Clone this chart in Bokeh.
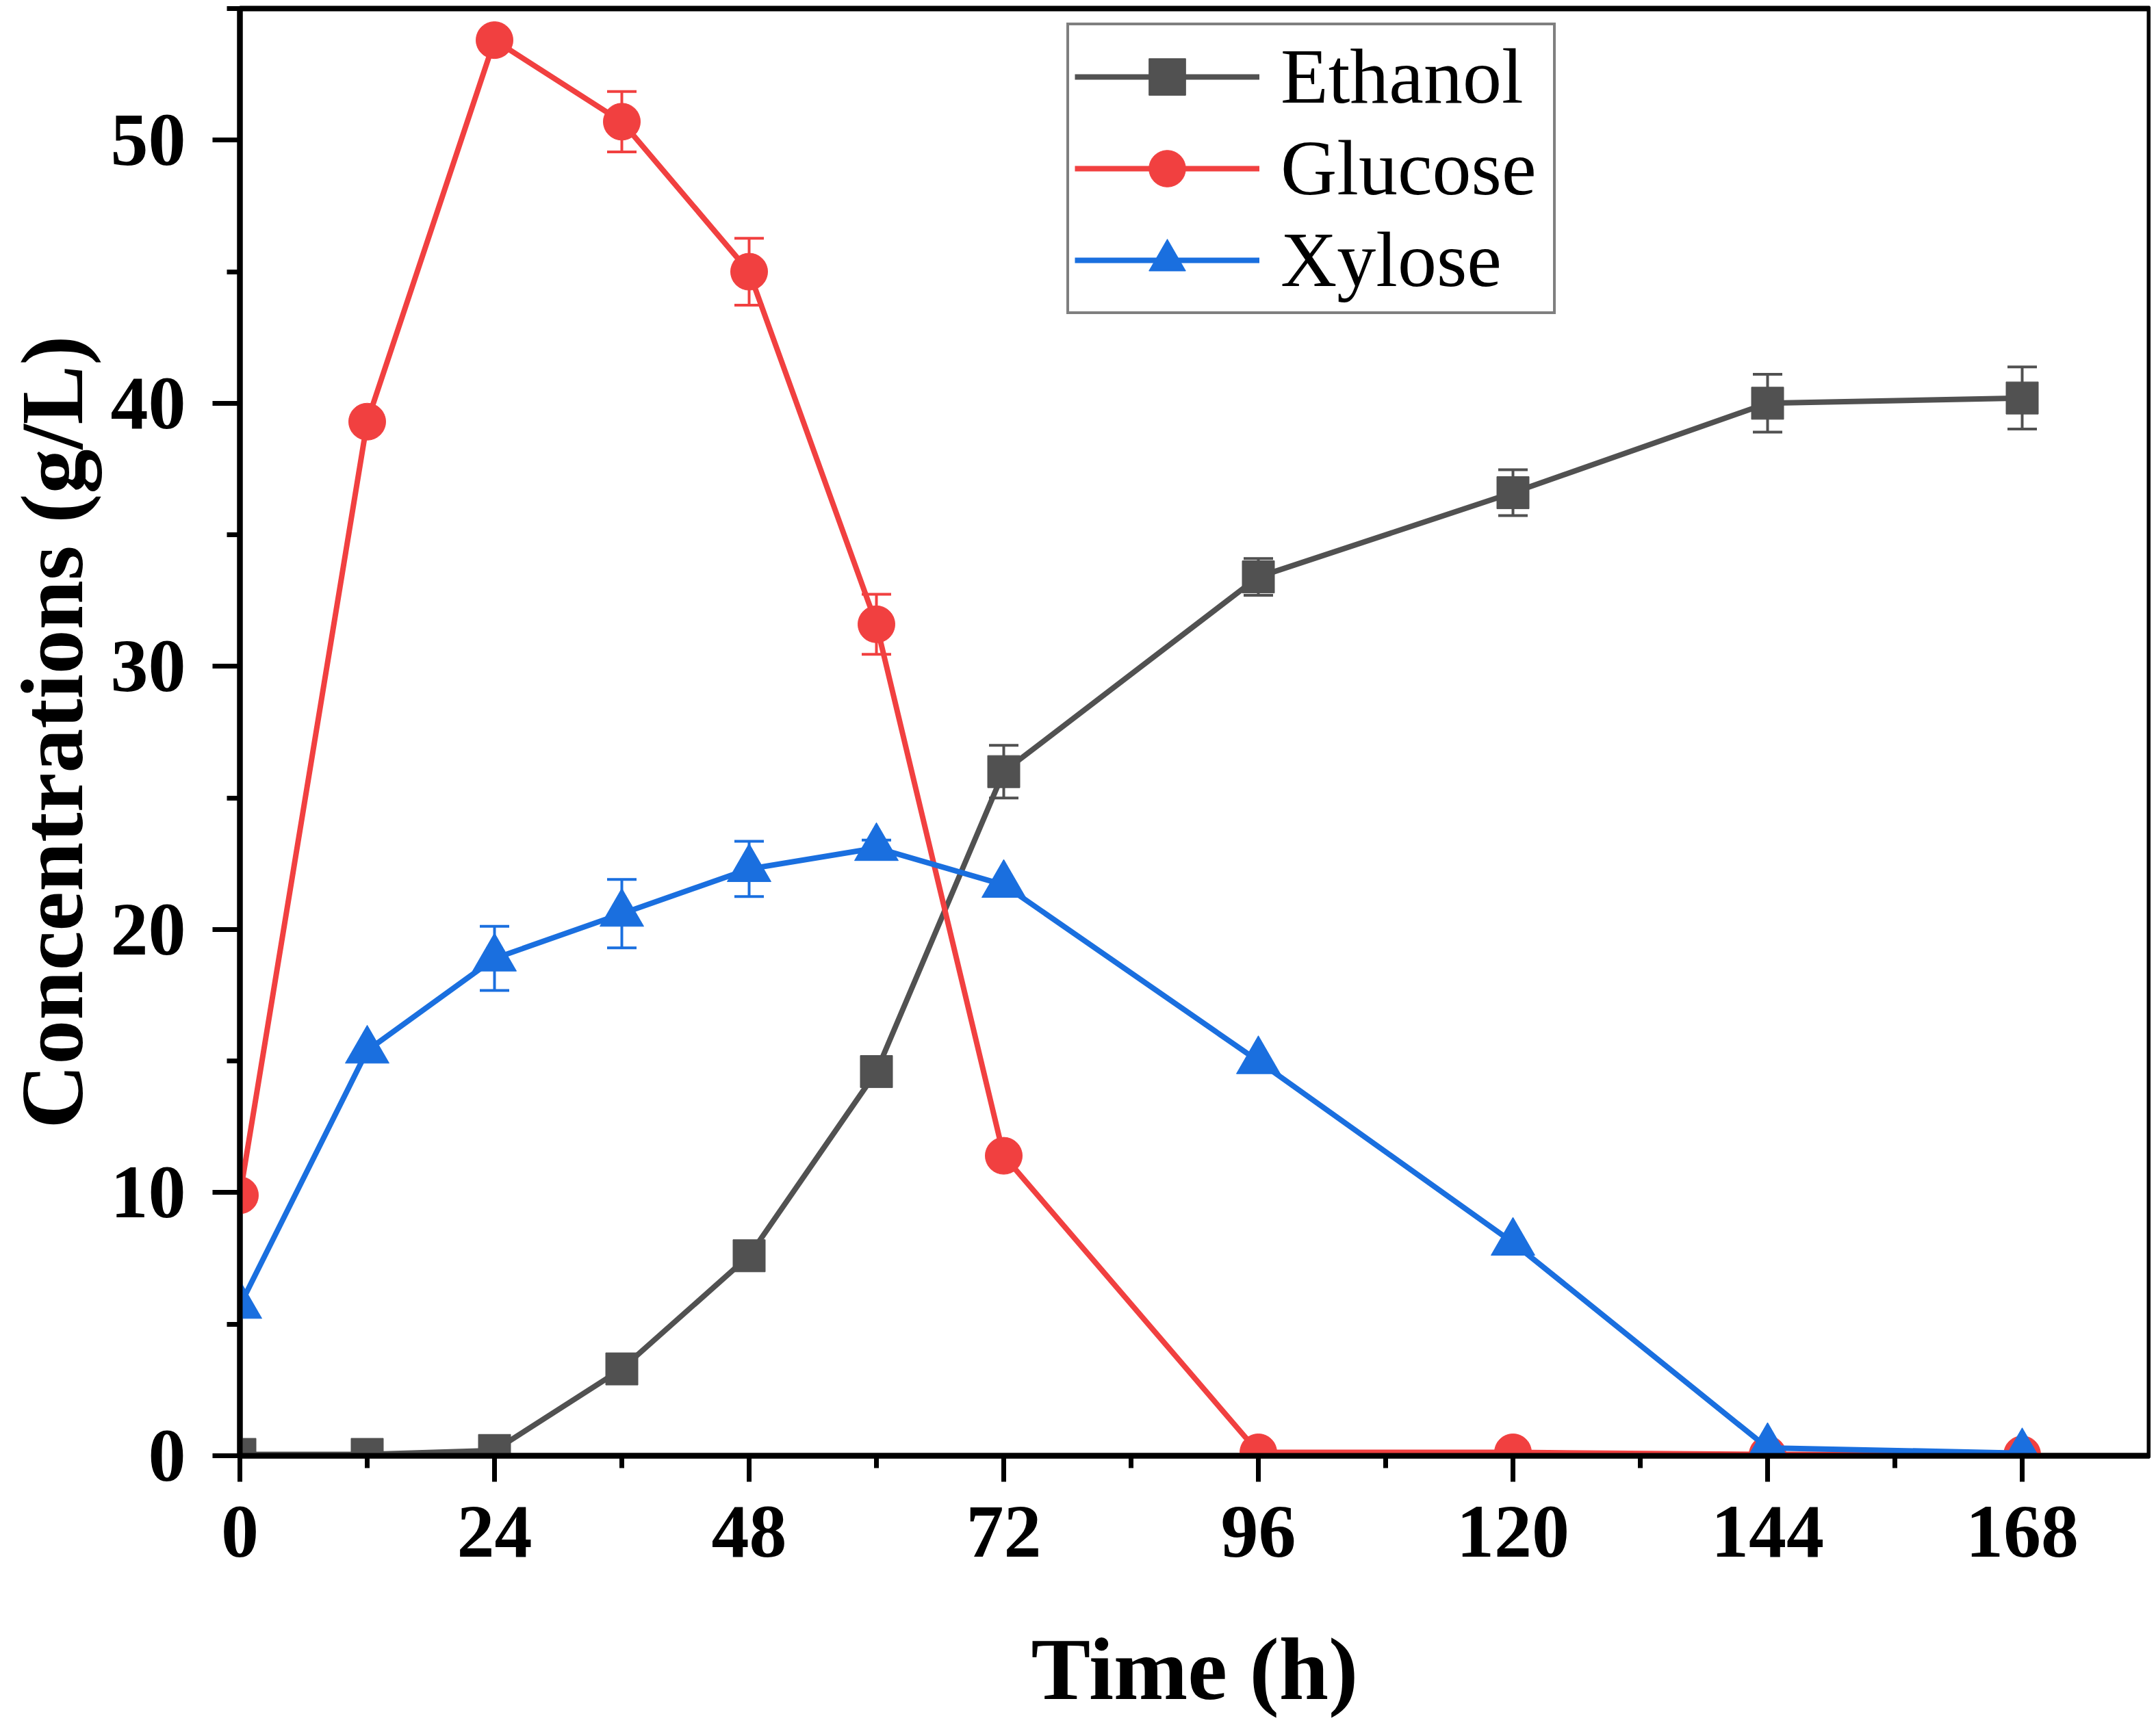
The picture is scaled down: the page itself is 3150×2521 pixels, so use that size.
from bokeh.plotting import figure
from bokeh.models import (ColumnDataSource, Range1d, FixedTicker, Whisker, TeeHead,
                          Legend, LegendItem)
from bokeh.embed import file_html
from bokeh.resources import INLINE

# ---- data ----
time_h = [0, 12, 24, 36, 48, 60, 72, 96, 120, 144, 168]
ethanol = [0.05, 0.05, 0.2, 3.3, 7.6, 14.6, 26.0, 33.4, 36.6, 40.0, 40.2]
glucose = [9.9, 39.3, 53.8, 50.7, 45.0, 31.6, 11.4, 0.13, 0.13, 0.05, 0.05]
xylose = [5.7, 15.4, 18.9, 20.6, 22.3, 23.1, 21.7, 15.0, 8.1, 0.3, 0.1]

ethanol_err = [0, 0, 0, 0.4, 0.35, 0.35, 1.0, 0.7, 0.87, 1.1, 1.18]
glucose_err = [0, 0, 0, 1.15, 1.27, 1.14, 0, 0, 0, 0, 0]
xylose_err = [0, 0, 1.22, 1.3, 1.05, 0.3, 0, 0, 0, 0, 0]

x_ticks = [0, 24, 48, 72, 96, 120, 144, 168]
x_minor = [12, 36, 60, 84, 108, 132, 156]
y_ticks = [0, 10, 20, 30, 40, 50]
y_minor = [5, 15, 25, 35, 45, 55]

series_names = ["Ethanol", "Glucose", "Xylose"]
colors = ["#515151", "#F14040", "#1A6FDF"]
markers = ["square", "circle", "triangle"]
marker_sizes = [47, 54, 64]

FONT = "Liberation Serif"

p = figure(width=3142, height=2513, output_backend="svg", toolbar_location=None,
           x_range=Range1d(0, 180), y_range=Range1d(0, 55),
           min_border_left=350, min_border_right=2, min_border_top=12,
           min_border_bottom=384)
p.grid.visible = False
p.background_fill_color = "white"
p.border_fill_color = "white"
p.outline_line_color = "black"
p.outline_line_width = 8

for ax in (p.xaxis, p.yaxis):
    ax.axis_line_width = 8
    ax.axis_line_color = "black"
    ax.major_tick_line_width = 7
    ax.minor_tick_line_width = 7
    ax.major_tick_in = 0
    ax.minor_tick_in = 0
    ax.major_label_text_font = FONT
    ax.major_label_text_font_style = "bold"
    ax.major_label_text_font_size = "110px"
    ax.major_label_text_color = "black"
    ax.axis_label_text_font = FONT
    ax.axis_label_text_font_style = "bold"
    ax.axis_label_text_font_size = "130px"
    ax.axis_label_text_color = "black"

p.xaxis.ticker = FixedTicker(ticks=x_ticks, minor_ticks=x_minor)
p.yaxis.ticker = FixedTicker(ticks=y_ticks, minor_ticks=y_minor)
p.xaxis.major_tick_out = 38
p.xaxis.minor_tick_out = 18
p.yaxis.major_tick_out = 40
p.yaxis.minor_tick_out = 19
p.xaxis.major_label_standoff = 36
p.yaxis.major_label_standoff = 39

p.xaxis.axis_label = "Time (h)"
p.xaxis.axis_label_standoff = 89
p.yaxis.axis_label = "Concentrations (g/L)"
p.yaxis.axis_label_standoff = 11

series = [ethanol, glucose, xylose]
errors = [ethanol_err, glucose_err, xylose_err]
items = []
for name, ys, errs, c, m, s in zip(series_names, series, errors, colors, markers, marker_sizes):
    src = ColumnDataSource(dict(x=time_h, y=ys))
    lr = p.line("x", "y", source=src, line_color=c, line_width=8)
    idx = [i for i, e in enumerate(errs) if e > 0]
    esrc = ColumnDataSource(dict(base=[time_h[i] for i in idx],
                                 upper=[ys[i] + errs[i] for i in idx],
                                 lower=[ys[i] - errs[i] for i in idx]))
    w = Whisker(source=esrc, base="base", upper="upper", lower="lower",
                dimension="height", line_color=c, line_width=4,
                upper_head=TeeHead(size=43, line_color=c, line_width=4),
                lower_head=TeeHead(size=43, line_color=c, line_width=4))
    p.add_layout(w)
    sr = p.scatter("x", "y", source=src, marker=m, size=s, fill_color=c,
                   line_color=c, line_width=1)
    items.append(LegendItem(label=name, renderers=[lr, sr]))

legend = Legend(items=items, location=(1208, 1668))
legend.label_text_font = FONT
legend.label_text_font_size = "114px"
legend.label_text_color = "black"
legend.glyph_width = 270
legend.glyph_height = 134
legend.label_height = 134
legend.label_width = 390
legend.label_standoff = 31
legend.padding = 8
legend.spacing = 0
legend.margin = 0
legend.border_line_color = "black"
legend.border_line_width = 4
legend.background_fill_color = "white"
legend.background_fill_alpha = 1.0
p.add_layout(legend)

open("out.html", "w").write(file_html(p, INLINE))
